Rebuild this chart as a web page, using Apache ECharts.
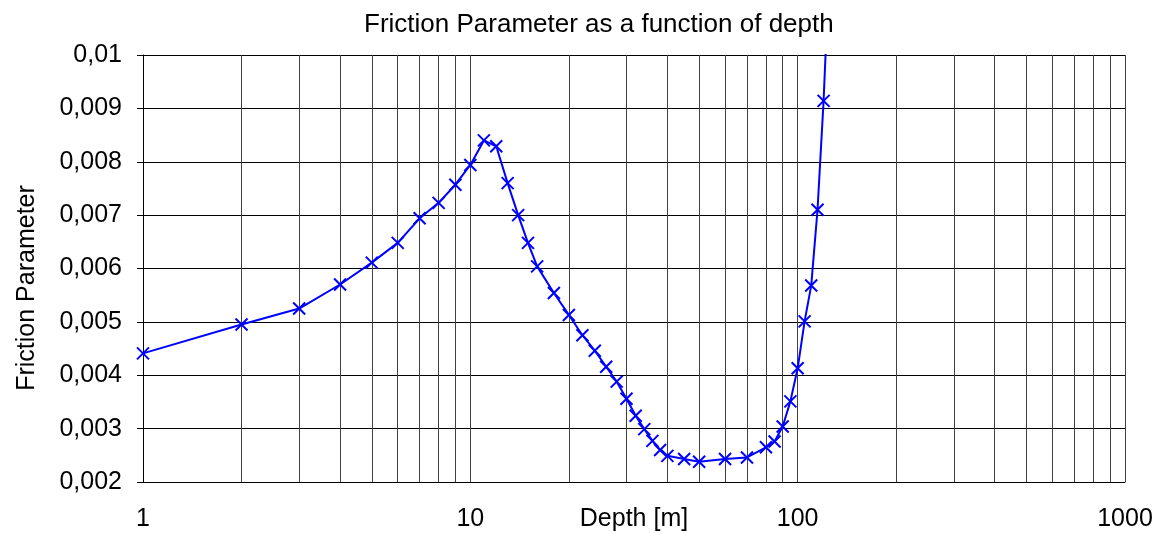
<!DOCTYPE html>
<html>
<head>
<meta charset="utf-8">
<script src="https://cdn.jsdelivr.net/npm/echarts@6/dist/echarts.min.js"></script>
<style>
html,body{margin:0;padding:0;background:#fff;}
#chart{width:1155px;height:534px;}
</style>
</head>
<body>
<div id="chart"></div>
<script>
// Data
var depth = [1,2,3,4,5,6,7,8,9,10,11,12,13,14,15,16,18,20,22,24,26,28,30,32,34,36,38,40,45,50,60,70,80,85,90,95,100,105,110,115,120,125];
var friction = [0.00441,0.00495,0.00525,0.0057,0.00611,0.00648,0.00694,0.00723,0.00757,0.00794,0.0084,0.00829,0.0076,0.007,0.00648,0.00604,0.00554,0.00513,0.00475,0.00446,0.00416,0.00388,0.00356,0.00324,0.00299,0.00277,0.0026,0.00249,0.00243,0.00238,0.00243,0.00246,0.00265,0.00276,0.00304,0.00351,0.00413,0.00501,0.00568,0.0071,0.00914,0.0117];
var xTickLabels = ['1','10','100','1000'];
var yTickLabels = ['0,002','0,003','0,004','0,005','0,006','0,007','0,008','0,009','0,01'];
var yAxisTitle = 'Friction Parameter';

var minorGrid = [];
for (var d = 1; d < 1000; d *= 10) {
  for (var m = 2; m <= 9; m++) minorGrid.push({xAxis: d * m});
}

var FONT = 'Liberation Sans, Arial, sans-serif';
var chart = echarts.init(document.getElementById('chart'), null, {renderer: 'canvas'});
chart.setOption({
  backgroundColor: '#fff',
  animation: false,
  title: {
    text: 'Friction Parameter as a function of depth',
    left: 359, top: 7,
    textStyle: {fontFamily: FONT, fontSize: 26, fontWeight: 'normal', color: '#000'}
  },
  graphic: [{
    type: 'text',
    x: 27, y: 288,
    rotation: Math.PI / 2,
    style: {
      text: yAxisTitle, fontFamily: FONT, fontSize: 25, fill: '#000',
      align: 'center', verticalAlign: 'middle'
    },
    silent: true
  }],
  grid: {left: 143, right: 30, top: 55, bottom: 52, containLabel: false, outerBoundsMode: 'none'},
  xAxis: {
    type: 'log', logBase: 10, min: 1, max: 1000, interval: 1,
    name: 'Depth [m]', nameLocation: 'middle', nameGap: 25, nameMoveOverlap: false,
    nameTextStyle: {fontFamily: FONT, fontSize: 25, color: '#000', verticalAlign: 'top'},
    axisLine: {show: true, lineStyle: {color: '#000', width: 1}},
    axisTick: {show: false},
    axisLabel: {
      margin: 25, fontFamily: FONT, fontSize: 25, color: '#000',
      formatter: function (v) {
        var i = Math.round(Math.log10(v));
        return xTickLabels[i] !== undefined ? xTickLabels[i] : '';
      }
    },
    splitLine: {show: true, lineStyle: {color: '#404040', width: 1}}
  },
  yAxis: {
    type: 'value', min: 0.002, max: 0.01, interval: 0.001,
    axisLine: {show: true, lineStyle: {color: '#000', width: 1}},
    axisTick: {show: true, inside: false, length: 6, lineStyle: {color: '#000'}},
    axisLabel: {
      margin: 21, fontFamily: FONT, fontSize: 25, color: '#000',
      formatter: function (v) {
        var i = Math.round((v - 0.002) / 0.001);
        return yTickLabels[i] !== undefined ? yTickLabels[i] : '';
      }
    },
    splitLine: {show: true, lineStyle: {color: '#000', width: 1}}
  },
  series: [{
    type: 'line',
    data: depth.map(function (d, i) { return [d, friction[i]]; }),
    clip: true,
    symbol: 'path://M0,0L10,10M10,0L0,10',
    symbolSize: 12,
    showAllSymbol: true,
    lineStyle: {color: '#0000ff', width: 2},
    itemStyle: {color: '#0000ff', borderColor: '#0000ff', borderWidth: 2},
    z: 5,
    markLine: {
      silent: true, symbol: ['none', 'none'],
      label: {show: false},
      lineStyle: {color: '#404040', width: 1, type: 'solid'},
      data: minorGrid,
      animation: false
    }
  }]
});
</script>
</body>
</html>
